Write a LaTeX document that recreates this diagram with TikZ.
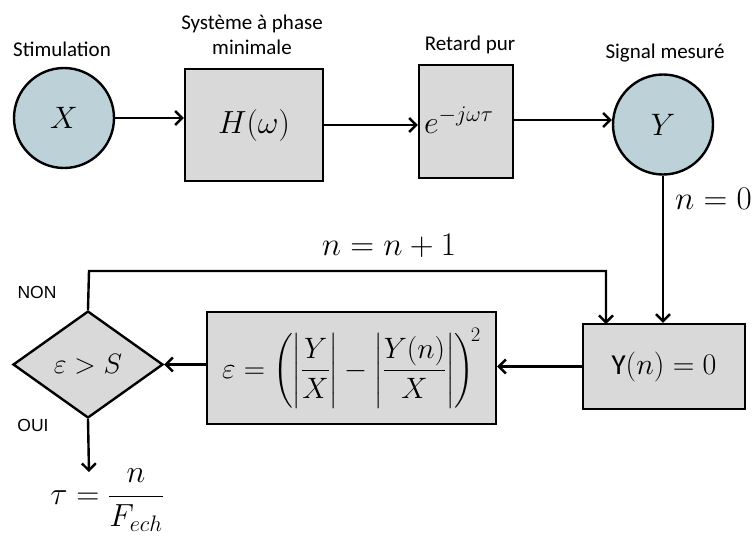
\RequirePackage{fix-cm}
\documentclass[tikz,border=0pt]{standalone}
\usepackage{amsmath}
\usepackage{fontspec}
\setmainfont{Carlito}
\newfontfamily\arialfont{Liberation Sans}
\usetikzlibrary{arrows.meta,shapes.geometric}
\definecolor{circfill}{HTML}{BDD1D9}
\definecolor{boxfill}{HTML}{D9D9D9}
\begin{document}
\begin{tikzpicture}[x=1pt,y=-1pt,
  line width=2.4pt,
  arr/.style={-{Straight Barb[length=7pt,width=14pt,line width=2.4pt]}},
  circ/.style={circle,draw,fill=circfill,minimum size=100pt,inner sep=0pt,font=\fontsize{31}{36}\selectfont},
  blk/.style={rectangle,draw,fill=boxfill,inner sep=0pt,font=\fontsize{32}{36}\selectfont},
  lbl/.style={font=\fontsize{21}{25}\selectfont,align=center},
  small/.style={font=\arialfont\fontsize{17.5}{20}\selectfont},
  mth/.style={font=\fontsize{33}{38}\selectfont}]
\useasboundingbox (0,0) rectangle (754,542);
\node[circ] (X) at (64,118) {$X$};
\node[blk,minimum width=138pt,minimum height=112pt] (H) at (254,125) {$H(\omega)$};
\node[blk,minimum width=94pt,minimum height=113pt] (R) at (466,121.5) {};
\node[font=\fontsize{32}{36}\selectfont,anchor=west,inner sep=0pt] (Rt) at (423,120) {$e^{-j\omega\tau}$};
\node[circ] (Y) at (663,124.5) {$Y$};
\node[lbl] (l1) at (62,49) {Stimulation};
\node[lbl] (l2) at (252,35) {Système à phase\\minimale};
\node[lbl] (l3) at (470,45) {Retard pur};
\node[lbl] (l4) at (665,53) {Signal mesuré};
\node[blk,minimum width=162pt,minimum height=85pt,font=\fontsize{30}{34}\selectfont] (Yn) at (664,366.5) {{\fontsize{29}{34}\selectfont Y}$(n)=0$};
\node[blk,minimum width=289pt,minimum height=112pt,font=\fontsize{29.5}{34}\selectfont] (E) at (351.5,368) {$\varepsilon=\left(\left|\dfrac{Y}{X}\right|-\left|\dfrac{Y(n)}{X}\right|\right)^{\!2}$};
\node[diamond,draw,fill=boxfill,minimum width=150pt,minimum height=107pt,inner sep=0pt,aspect=1.4,font=\fontsize{28}{32}\selectfont] (D) at (88,364.5) {$\varepsilon>S$};
\node[font=\fontsize{32}{36}\selectfont] (tau) at (107,500) {$\tau=\dfrac{n}{F_{ech}}$};
\node[mth,anchor=west,inner sep=0pt] (n0) at (674,199) {$n=0$};
\node[mth] (n1) at (389,246) {$n=n+1$};
\node[small] (non) at (37,292) {NON};
\node[small] (oui) at (33,425) {OUI};
\coordinate (c1) at (89,271);
\coordinate (c2) at (606,271);
\coordinate (Yt) at (606,324);
\coordinate (out) at (89,472);
\draw[arr] (X.east) -- (H.west |- X.east);
\draw[arr] (H.east |- 0,125) -- (R.west |- 0,125);
\draw[arr] (R.east |- 0,120) -- (Y.west |- 0,120);
\draw[arr] (Y.south) -- (Y.south |- Yn.north);
\draw[arr] (D.north) -- (c1) -- (c2) -- (Yt);
\draw[arr] (Yn.west) -- (E.east |- Yn.west);
\draw[arr] (E.west |- D.east) -- (D.east);
\draw[arr] (D.south) -- (out);
\end{tikzpicture}
\end{document}
